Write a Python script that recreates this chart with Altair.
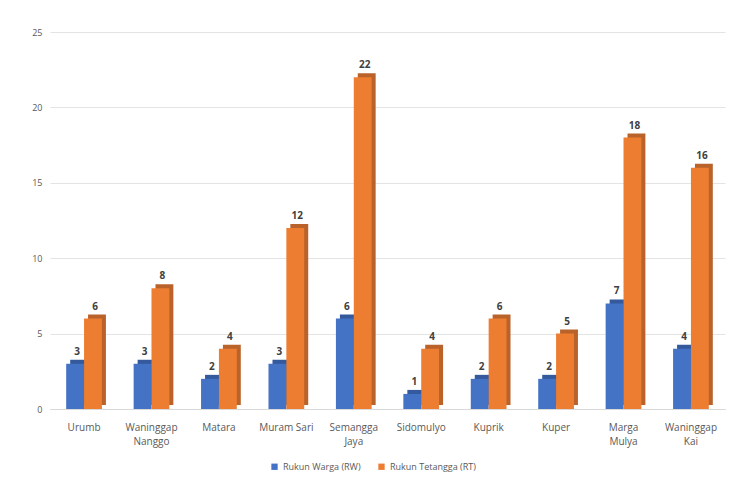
import altair as alt
import pandas as pd

desa = ["Urumb", "Waninggap Nanggo", "Matara", "Muram Sari", "Semangga Jaya",
        "Sidomulyo", "Kuprik", "Kuper", "Marga Mulya", "Waninggap Kai"]
rw = [3, 3, 2, 3, 6, 1, 2, 2, 7, 4]
rt = [6, 8, 4, 12, 22, 4, 6, 5, 18, 16]
series = ["Rukun Warga (RW)", "Rukun Tetangga (RT)"]
colors = ["#4472C4", "#ED7D31"]
dark = ["#34599C", "#B9622A"]

rows = []
for d, a, b in zip(desa, rw, rt):
    rows.append({"desa": d, "seri": series[0], "nilai": a})
    rows.append({"desa": d, "seri": series[1], "nilai": b})
df = pd.DataFrame(rows)

FONT = "Open Sans"
W, H = 675, 377
PI, PO = 0.47, 0.24
step = W / (len(desa) - PI + 2 * PO)
bw = step * (1 - PI)
DEPTH = 4

x = alt.X("desa:N", sort=desa, title=None,
          scale=alt.Scale(paddingInner=PI, paddingOuter=PO),
          axis=alt.Axis(labelAngle=0, labelColor="#595959", labelFontSize=10,
                        labelFont=FONT, ticks=False, domainColor="#D9D9D9",
                        labelPadding=13, labelLineHeight=14,
                        labelExpr="datum.label == 'Muram Sari' ? datum.label : split(datum.label, ' ')"))
y = alt.Y("nilai:Q", title=None,
          scale=alt.Scale(domain=[0, 25]),
          axis=alt.Axis(values=[0, 5, 10, 15, 20, 25], labelColor="#595959",
                        labelFontSize=9, labelFont=FONT, domain=False, ticks=False,
                        gridColor="#E4E4E4", labelPadding=8))

base = alt.Chart(df)

shadow = base.mark_bar(yOffset=-DEPTH).encode(
    x=x, y=y,
    xOffset=alt.XOffset("seri:N", sort=series,
                        scale=alt.Scale(range=[DEPTH, DEPTH + bw])),
    color=alt.Color("seri:N", sort=series,
                    scale=alt.Scale(domain=series, range=dark), legend=None),
)

bars = base.mark_bar().encode(
    x=x, y=y,
    xOffset=alt.XOffset("seri:N", sort=series, scale=alt.Scale(range=[0, bw])),
    fill=alt.Fill("seri:N", sort=series,
                  scale=alt.Scale(domain=series, range=colors),
                  legend=alt.Legend(title=None, orient="none", direction="horizontal",
                                    legendX=220, legendY=430,
                                    symbolType="square", symbolSize=40,
                                    labelFontSize=9, labelFont=FONT,
                                    labelColor="#595959", columnPadding=16)),
)

labels = base.mark_text(dx=2, dy=-12, fontWeight="bold", fontSize=10,
                        font=FONT, color="#404040").encode(
    x=x, y=y,
    xOffset=alt.XOffset("seri:N", sort=series, scale=alt.Scale(range=[0, bw])),
    text="nilai:Q")

chart = alt.layer(shadow, bars, labels).resolve_scale(
    color="independent", xOffset="independent"
).properties(
    width=W, height=H,
    autosize=alt.AutoSizeParams(type="none"),
    padding={"left": 42, "top": 24, "right": 23, "bottom": 72},
).configure_view(stroke=None)

chart.save("out.html", embed_options={"renderer": "svg", "actions": False})
